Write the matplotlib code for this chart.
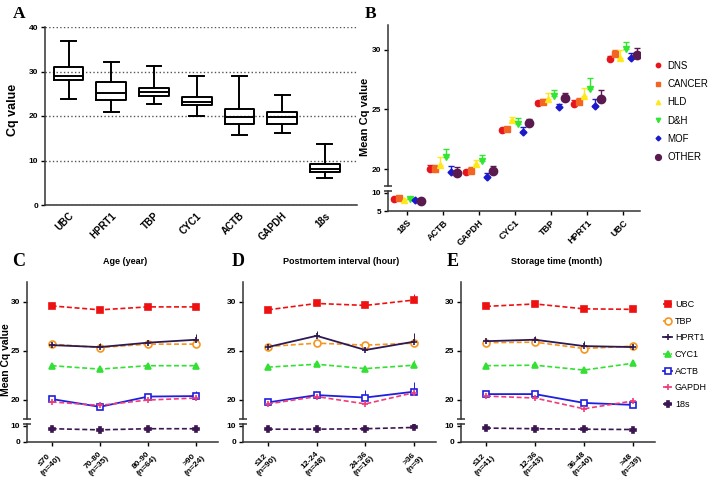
import matplotlib
matplotlib.use('Agg')
import matplotlib.pyplot as plt
import numpy as np

plt.rcParams['font.family'] = ['Liberation Sans', 'DejaVu Sans']
plt.rcParams['font.weight'] = 'bold'

# ---------- panel A : box plot data ----------
genes_a = ['UBC', 'HPRT1', 'TBP', 'CYC1', 'ACTB', 'GAPDH', '18s']
whis_hi = [36.8, 32.2, 31.3, 29.1, 29.1, 24.8, 13.8]
q3_a = [31.1, 27.6, 26.4, 24.3, 21.5, 20.9, 9.3]
med_a = [29.1, 25.1, 25.3, 23.1, 19.7, 19.8, 8.0]
q1_a = [28.0, 23.5, 24.4, 22.4, 18.2, 18.3, 7.4]
whis_lo = [23.9, 20.9, 22.6, 20.1, 15.7, 16.1, 6.1]

# ---------- panel B : mean Cq by cause of death ----------
genes_b = ['18S', 'ACTB', 'GAPDH', 'CYC1', 'TBP', 'HPRT1', 'UBC']
groups_b = ['DNS', 'CANCER', 'HLD', 'D&H', 'MOF', 'OTHER']
dns = [8.4, 20.0, 19.75, 23.3, 25.5, 25.45, 29.2]
cancer = [8.5, 20.0, 19.85, 23.4, 25.6, 25.6, 29.65]
hld = [8.1, 20.3, 20.45, 24.1, 25.9, 26.1, 29.3]
dh = [8.4, 21.0, 20.7, 23.8, 26.1, 26.7, 30.1]
mof = [8.0, 19.75, 19.3, 23.1, 25.2, 25.3, 29.3]
other = [7.8, 19.7, 19.8, 23.85, 26.0, 25.9, 29.6]
dns_err = [0.1, 0.3, 0.2, 0.1, 0.2, 0.35, 0.25]
cancer_err = [0.1, 0.3, 0.35, 0.1, 0.25, 0.4, 0.3]
hld_err = [0.1, 0.7, 0.35, 0.3, 0.45, 0.7, 0.65]
dh_err = [0.1, 0.7, 0.5, 0.45, 0.5, 0.9, 0.55]
mof_err = [0.1, 0.5, 0.4, 0.4, 0.25, 0.6, 0.4]
other_err = [0.1, 0.5, 0.45, 0.35, 0.4, 0.7, 0.55]

# ---------- panels C, D, E ----------
series_names = ['UBC', 'TBP', 'HPRT1', 'CYC1', 'ACTB', 'GAPDH', '18s']

age_labels = ['≤70\n(n=40)', '70-80\n(n=35)', '80-90\n(n=64)', '>90\n(n=24)']
age_vals = {
    'UBC': [29.6, 29.2, 29.5, 29.5],
    'TBP': [25.7, 25.35, 25.7, 25.7],
    'HPRT1': [25.6, 25.4, 25.85, 26.15],
    'CYC1': [23.5, 23.15, 23.5, 23.5],
    'ACTB': [20.1, 19.3, 20.35, 20.4],
    'GAPDH': [19.8, 19.45, 20.0, 20.2],
    '18s': [8.3, 7.6, 8.3, 8.3],
}
age_err = {
    'UBC': [0.35, 0.2, 0.2, 0.35], 'TBP': [0.2, 0.2, 0.2, 0.2],
    'HPRT1': [0.2, 0.4, 0.3, 0.6], 'CYC1': [0.2, 0.15, 0.15, 0.25],
    'ACTB': [0.35, 0.2, 0.2, 0.5], 'GAPDH': [0.2, 0.2, 0.2, 0.2],
    '18s': [0.2, 0.2, 0.2, 0.2],
}

pmi_labels = ['≤12\n(n=90)', '12-24\n(n=48)', '24-36\n(n=16)', '>36\n(n=9)']
pmi_vals = {
    'UBC': [29.2, 29.85, 29.65, 30.2],
    'TBP': [25.45, 25.8, 25.6, 25.8],
    'HPRT1': [25.4, 26.55, 25.1, 25.95],
    'CYC1': [23.35, 23.65, 23.2, 23.55],
    'ACTB': [19.75, 20.5, 20.25, 20.85],
    'GAPDH': [19.6, 20.35, 19.6, 20.75],
    '18s': [8.0, 8.0, 8.3, 9.1],
}
pmi_err = {
    'UBC': [0.15, 0.2, 0.5, 0.6], 'TBP': [0.2, 0.2, 0.3, 0.3],
    'HPRT1': [0.2, 0.5, 0.3, 0.9], 'CYC1': [0.15, 0.2, 0.3, 0.5],
    'ACTB': [0.2, 0.3, 0.75, 1.0], 'GAPDH': [0.2, 0.2, 0.3, 0.3],
    '18s': [0.2, 0.2, 0.2, 0.2],
}

stor_labels = ['≤12\n(n=41)', '12-36\n(n=43)', '36-48\n(n=40)', '>48\n(n=39)']
stor_vals = {
    'UBC': [29.55, 29.8, 29.3, 29.25],
    'TBP': [25.85, 25.9, 25.25, 25.5],
    'HPRT1': [26.0, 26.15, 25.5, 25.4],
    'CYC1': [23.5, 23.55, 23.05, 23.75],
    'ACTB': [20.6, 20.6, 19.7, 19.5],
    'GAPDH': [20.4, 20.2, 19.1, 19.9],
    '18s': [8.7, 8.3, 8.0, 7.8],
}
stor_err = {
    'UBC': [0.2, 0.25, 0.2, 0.2], 'TBP': [0.2, 0.2, 0.2, 0.2],
    'HPRT1': [0.25, 0.4, 0.5, 0.2], 'CYC1': [0.15, 0.2, 0.2, 0.2],
    'ACTB': [0.2, 0.2, 0.3, 0.2], 'GAPDH': [0.15, 0.2, 0.2, 0.2],
    '18s': [0.2, 0.2, 0.2, 0.2],
}

# styles
line_style = {
    'UBC': dict(color='#ee1111', marker='s', ms=4, ls='--', mfc='#ee1111'),
    'TBP': dict(color='#f7941d', marker='o', ms=5, ls='--', mfc='white'),
    'HPRT1': dict(color='#2e1a52', marker='+', ms=4.5, ls='-', mfc='#2e1a52'),
    'CYC1': dict(color='#33e033', marker='^', ms=4, ls='--', mfc='#33e033'),
    'ACTB': dict(color='#1f1fe0', marker='s', ms=5, ls='-', mfc='white'),
    'GAPDH': dict(color='#f03c78', marker='+', ms=4.5, ls='--', mfc='#f03c78'),
    '18s': dict(color='#3c1650', marker='P', ms=4, ls='--', mfc='#3c1650'),
}
group_style = [
    dict(color='#e8141c', marker='o', ms=4.5),
    dict(color='#f26522', marker='s', ms=4.5),
    dict(color='#ffe81a', marker='^', ms=4.5),
    dict(color='#33e633', marker='v', ms=4.5),
    dict(color='#1a1acc', marker='D', ms=3.5),
    dict(color='#5a1a4f', marker='o', ms=6),
]

fig = plt.figure(figsize=(7.08, 4.79), dpi=100)


def fr(l, t, r, b):
    return [l / 708, 1 - b / 479, (r - l) / 708, (b - t) / 479]


def clean(ax, bottom=True):
    ax.spines['top'].set_visible(False)
    ax.spines['right'].set_visible(False)
    if not bottom:
        ax.spines['bottom'].set_visible(False)
        ax.tick_params(axis='x', bottom=False, labelbottom=False)
    for s in ax.spines.values():
        s.set_linewidth(1.1)
        s.set_color('#333333')
    ax.tick_params(direction='out', length=3, width=1, labelsize=6, pad=2)


def break_marks(ax_up, ax_lo):
    ax_up.plot([0], [0], marker='_', ms=6, mew=1.1, color='#333333',
               transform=ax_up.transAxes, clip_on=False)
    ax_lo.plot([0], [1], marker='_', ms=6, mew=1.1, color='#333333',
               transform=ax_lo.transAxes, clip_on=False)


# ---------------- A ----------------
axA = fig.add_axes(fr(45, 27, 357, 205))
stats = [dict(med=m, q1=a, q3=b, whislo=lo, whishi=hi, fliers=[])
         for m, a, b, lo, hi in zip(med_a, q1_a, q3_a, whis_lo, whis_hi)]
pos_a = np.arange(len(genes_a))
axA.bxp(stats, positions=pos_a, widths=0.7, showfliers=False,
        boxprops=dict(lw=1.4, color='black'),
        medianprops=dict(lw=1.4, color='black'),
        whiskerprops=dict(lw=1.4, color='black'),
        capprops=dict(lw=1.4, color='black'), capwidths=0.35)
axA.set_xlim(-0.55, 6.75)
axA.set_ylim(0, 40)
axA.set_yticks([0, 10, 20, 30, 40])
axA.yaxis.grid(True, ls=':', color='#555555', lw=1)
axA.set_axisbelow(True)
clean(axA)
axA.set_xticks(pos_a)
axA.set_xticklabels(genes_a, rotation=45, ha='right', rotation_mode='anchor', fontsize=7)
axA.tick_params(axis='x', length=0, pad=4)
fig.text(13 / 708, 1 - 110 / 479, 'Cq value', rotation=90, fontsize=9,
         ha='center', va='center')
fig.text(13 / 708, 1 - 14 / 479, 'A', family='Liberation Serif', fontsize=12.5,
         weight='bold', va='center')

# ---------------- B ----------------
axBu = fig.add_axes(fr(388, 25, 640, 186))
axBl = fig.add_axes(fr(388, 191, 640, 211))
pos_b = np.arange(len(genes_b))
vals_b = [dns, cancer, hld, dh, mof, other]
errs_b = [dns_err, cancer_err, hld_err, dh_err, mof_err, other_err]
offs = (np.arange(6) - 2.5) * 0.15
for ax in (axBu, axBl):
    for i in range(6):
        st = group_style[i]
        ax.errorbar(pos_b + offs[i], vals_b[i],
                    yerr=[np.zeros(7), errs_b[i]], fmt=st['marker'],
                    ms=st['ms'], color=st['color'], mec=st['color'],
                    ecolor=st['color'], elinewidth=1, capsize=2, capthick=1,
                    label=groups_b[i])
axBu.set_ylim(18.58, 32.08)
axBu.set_yticks([20, 25, 30])
axBl.set_ylim(5, 10.55)
axBl.set_yticks([5, 10])
for ax in (axBu, axBl):
    ax.set_xlim(-0.53, 6.47)
clean(axBu, bottom=False)
clean(axBl)
break_marks(axBu, axBl)
axBl.set_xticks(pos_b)
axBl.set_xticklabels(genes_b, rotation=45, ha='right', rotation_mode='anchor', fontsize=6.5)
fig.text(365 / 708, 1 - 117 / 479, 'Mean Cq value', rotation=90, fontsize=8,
         ha='center', va='center')
fig.text(365 / 708, 1 - 14 / 479, 'B', family='Liberation Serif', fontsize=12.5,
         weight='bold', va='center')
fig.legend(handles=[plt.Line2D([], [], ls='', marker=s['marker'], color=s['color'],
                               ms=s['ms'] * 0.7) for s in group_style],
           labels=groups_b, loc='upper left',
           bbox_to_anchor=(645 / 708, 1 - 52 / 479), frameon=False,
           handlelength=0.8, handletextpad=0.6, labelspacing=0.85,
           prop=dict(size=7, weight='normal'))

# ---------------- C, D, E ----------------
panels = [
    (27, 218, age_labels, age_vals, age_err, 'Age (year)', 125, 'C', 12),
    (243, 436, pmi_labels, pmi_vals, pmi_err, 'Postmortem interval (hour)', 341, 'D', 232),
    (461, 655, stor_labels, stor_vals, stor_err, 'Storage time (month)', 557, 'E', 447),
]
x_cat = np.arange(4)
line_handles = []
for k, (l, r, labels, vals, errs, title, tx, letter, lx) in enumerate(panels):
    axu = fig.add_axes(fr(l, 282, r, 419))
    axl = fig.add_axes(fr(l, 424, r, 442))
    for ax in (axu, axl):
        for name in series_names:
            st = line_style[name]
            ax.errorbar(x_cat, vals[name], yerr=[np.zeros(4), errs[name]],
                        color=st['color'], ecolor=st['color'], elinewidth=0.7,
                        capsize=0, ls='none')
            ln, = ax.plot(x_cat, vals[name], color=st['color'], ls=st['ls'],
                          lw=1.3 if st['ls'] == '-' else 1.2,
                          dashes=(3, 1.6) if st['ls'] == '--' else (None, None),
                          marker=st['marker'], ms=st['ms'], mfc=st['mfc'],
                          mec=st['color'], mew=1.2, label=name)
            if k == 0 and ax is axu:
                line_handles.append(ln)
        ax.set_xlim(-0.51, 3.45)
    axu.set_ylim(18.06, 32.04)
    axu.set_yticks([20, 25, 30])
    axl.set_ylim(0, 11.25)
    axl.set_yticks([0, 10])
    clean(axu, bottom=False)
    clean(axl)
    break_marks(axu, axl)
    axl.set_xticks(x_cat)
    axl.set_xticklabels(labels, rotation=45, ha='right', rotation_mode='anchor',
                        fontsize=6, multialignment='center')
    fig.text(tx / 708, 1 - 261 / 479, title, fontsize=6.5, ha='center', va='center')
    fig.text(lx / 708, 1 - 262 / 479, letter, family='Liberation Serif', fontsize=13,
             weight='bold', va='center')

fig.text(6 / 708, 1 - 360 / 479, 'Mean Cq value', rotation=90, fontsize=7.5,
         ha='center', va='center')
fig.legend(handles=line_handles, labels=series_names, loc='upper left',
           bbox_to_anchor=(655 / 708, 1 - 292 / 479), frameon=False,
           handlelength=1.0, handletextpad=0.3, labelspacing=0.85,
           prop=dict(size=6.5, weight='normal'))

fig.savefig('out.png', dpi=100)
